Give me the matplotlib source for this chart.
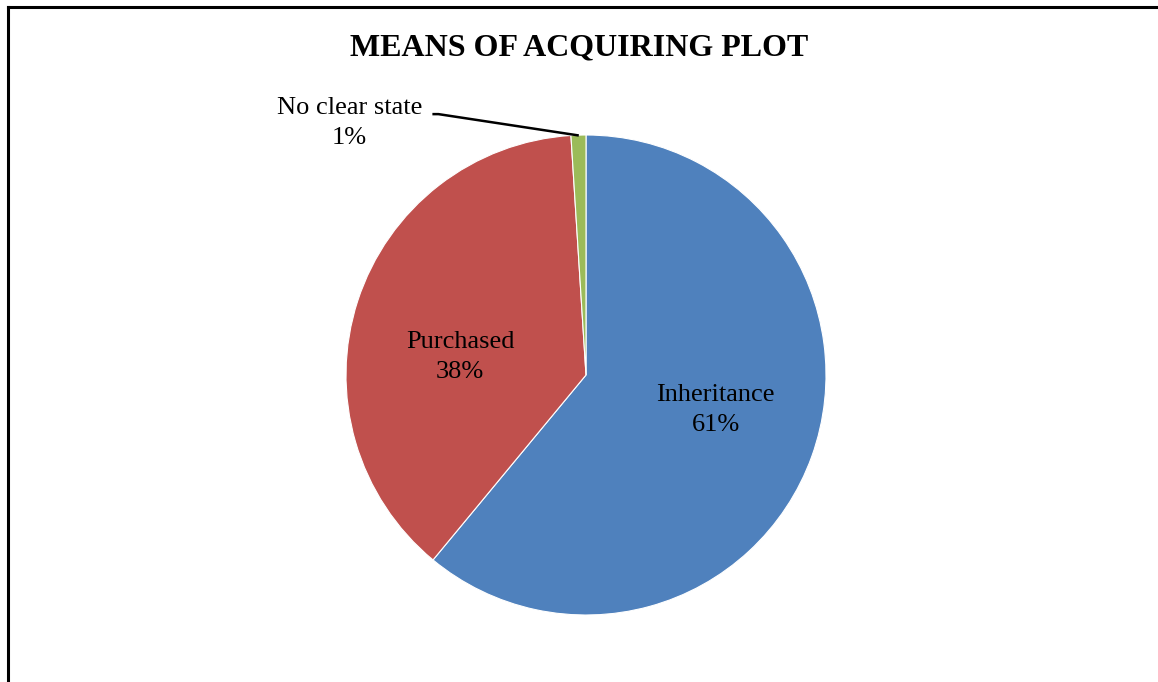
import matplotlib
matplotlib.use("Agg")
import matplotlib.pyplot as plt
from matplotlib.lines import Line2D

labels = ["Inheritance", "Purchased", "No clear state"]
shares = [61, 38, 1]
colors = ["#4F81BD", "#C0504D", "#9BBB59"]

W, H = 1158, 682
fig = plt.figure(figsize=(W / 100, H / 100), dpi=100)
plt.rcParams["font.family"] = ["Liberation Serif", "DejaVu Serif"]

# chart frame (left and top edges visible)
fig.add_artist(Line2D([8 / W, 8 / W], [0, 1 - 7 / H], transform=fig.transFigure,
                      color="black", linewidth=2.2))
fig.add_artist(Line2D([8 / W, 1], [1 - 7 / H, 1 - 7 / H], transform=fig.transFigure,
                      color="black", linewidth=2.2))

cx, cy, r = 586, 375, 240
ax = fig.add_axes([(cx - r) / W, (H - cy - r) / H, 2 * r / W, 2 * r / H])
wedges, _ = ax.pie(shares, colors=colors, startangle=90, counterclock=False,
                   radius=1, wedgeprops=dict(edgecolor="white", linewidth=0.8))
ax.set_xlim(-1, 1)
ax.set_ylim(-1, 1)
ax.set_aspect("equal")
ax.axis("off")

label_pos = [(0.54, -0.145), (-0.525, 0.075), (-0.985, 1.05)]
for lab, val, (x, y) in zip(labels, shares, label_pos):
    ax.text(x, y, f"{lab}\n{val}%", ha="center", va="center", fontsize=19,
            linespacing=1.45, clip_on=False)

# leader line for the small slice
ax.plot([-0.64, -0.615, -0.03], [1.087, 1.087, 0.998], color="black",
        linewidth=1.8, clip_on=False, solid_capstyle="butt")

fig.text(0.5, 1 - 48 / H, "MEANS OF ACQUIRING PLOT", ha="center", va="center",
         fontsize=23, fontweight="bold")

fig.savefig("out.png", dpi=100)
